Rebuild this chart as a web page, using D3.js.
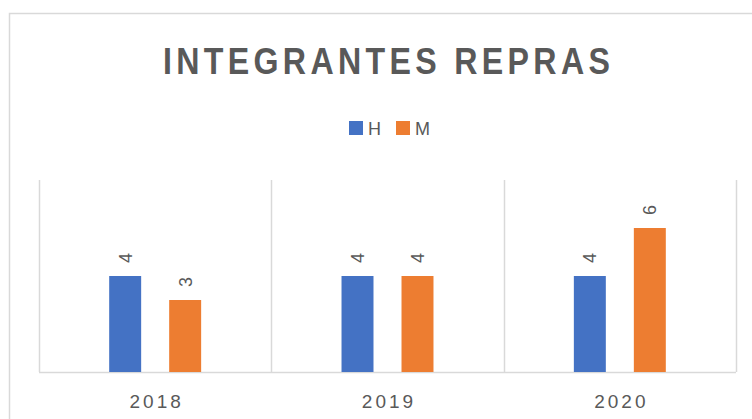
<!DOCTYPE html>
<html>
<head>
<meta charset="utf-8">
<script src="https://cdn.jsdelivr.net/npm/d3@7"></script>
<style>
  html, body { margin: 0; padding: 0; background: #fff; }
  svg { display: block; }
  text { font-family: "Liberation Sans", Arial, sans-serif; fill: #595959; }
</style>
</head>
<body>
<svg id="chart" width="752" height="419"></svg>
<script>
const categories = ["2018", "2019", "2020"];
const seriesNames = ["H", "M"];
const seriesH = [4, 4, 4];
const seriesM = [3, 4, 6];
const colors = ["#4472C4", "#ED7D31"];
const title = "INTEGRANTES REPRAS";
const yMax = 8;

const values = [seriesH, seriesM];
const data = categories.map((c, i) => ({
  cat: c,
  vals: seriesNames.map((s, j) => ({ key: s, value: values[j][i], color: colors[j] }))
}));

const svg = d3.select("#chart");
const plot = { left: 39, right: 736, top: 180, bottom: 372 };

// chart border (clipped on right/bottom like the reference)
svg.append("rect")
  .attr("x", 9.5).attr("y", 13.5)
  .attr("width", 800).attr("height", 500)
  .attr("fill", "none").attr("stroke", "#D9D9D9").attr("stroke-width", 1.5);

const x0 = d3.scaleBand().domain(categories).range([plot.left, plot.right]).padding(0);
const x1 = d3.scaleBand().domain(seriesNames).range([0, x0.bandwidth()])
  .paddingInner(0.467).paddingOuter(1.17);
const y = d3.scaleLinear().domain([0, yMax]).range([plot.bottom, plot.top]);

// vertical category separators
const bounds = categories.map(c => x0(c)).concat([x0(categories[categories.length - 1]) + x0.bandwidth()]);
svg.append("g").selectAll("line").data(bounds).join("line")
  .attr("x1", d => Math.round(d) + 0.5).attr("x2", d => Math.round(d) + 0.5)
  .attr("y1", plot.top).attr("y2", plot.bottom)
  .attr("stroke", "#D9D9D9").attr("stroke-width", 1.5);

// x axis line
svg.append("line")
  .attr("x1", plot.left).attr("x2", plot.right)
  .attr("y1", plot.bottom + 0.5).attr("y2", plot.bottom + 0.5)
  .attr("stroke", "#D9D9D9").attr("stroke-width", 1.5);

// bars
const groups = svg.append("g").selectAll("g").data(data).join("g")
  .attr("transform", d => `translate(${x0(d.cat)},0)`);
groups.selectAll("rect").data(d => d.vals).join("rect")
  .attr("x", d => x1(d.key))
  .attr("width", x1.bandwidth())
  .attr("y", d => y(d.value))
  .attr("height", d => y(0) - y(d.value))
  .attr("fill", d => d.color);

// data labels (rotated)
groups.selectAll("text.lbl").data(d => d.vals).join("text")
  .attr("class", "lbl")
  .attr("transform", d => `translate(${x1(d.key) + x1.bandwidth() / 2 + 6.5},${y(d.value) - 13}) rotate(-90)`)
  .attr("text-anchor", "start")
  .style("font-size", "18px")
  .text(d => d.value);

// category labels
svg.append("g").selectAll("text").data(categories).join("text")
  .attr("x", d => x0(d) + x0.bandwidth() / 2 + 1.5)
  .attr("y", 408)
  .attr("text-anchor", "middle")
  .style("font-size", "19px")
  .style("letter-spacing", "3px")
  .text(d => d);

// title: condensed, letter-spaced, fit to reference width (approx. 163..610)
const tx = 163, target = 447;
const t = svg.append("text")
  .attr("x", tx).attr("y", 74)
  .attr("text-anchor", "start")
  .style("font-size", "37px").style("font-weight", "bold")
  .style("letter-spacing", "5px")
  .text(title);
const w = t.node().getComputedTextLength() - 5;
t.attr("transform", `translate(${tx},0) scale(${target / w},1) translate(${-tx},0)`);

// legend
const legend = svg.append("g");
const legendItems = [
  { name: seriesNames[0], color: colors[0], sx: 349, tx: 368 },
  { name: seriesNames[1], color: colors[1], sx: 396, tx: 415 }
];
legend.selectAll("rect").data(legendItems).join("rect")
  .attr("x", d => d.sx).attr("y", 121).attr("width", 14).attr("height", 14)
  .attr("fill", d => d.color);
legend.selectAll("text").data(legendItems).join("text")
  .attr("x", d => d.tx).attr("y", 134.5)
  .style("font-size", "18px")
  .text(d => d.name);
</script>
</body>
</html>
